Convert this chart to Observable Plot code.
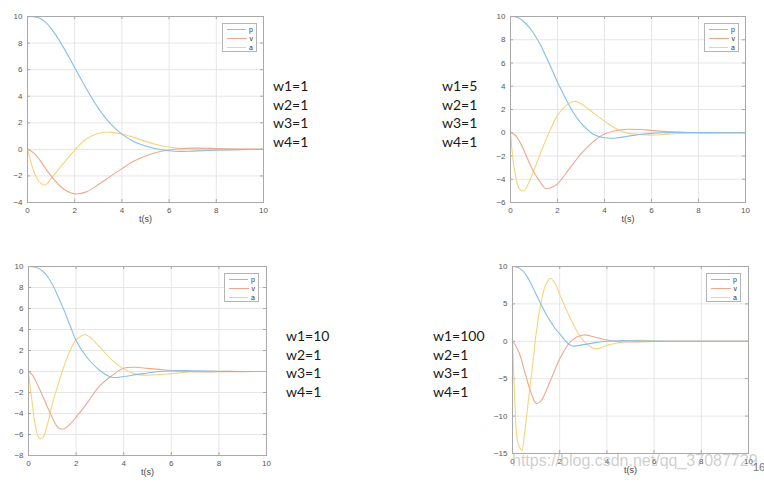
<!DOCTYPE html>
<html><head><meta charset="utf-8">
<script src="https://cdn.jsdelivr.net/npm/d3@7"></script>
<script src="https://cdn.jsdelivr.net/npm/@observablehq/plot@0.6"></script>
<style>
body{margin:0;background:#fff;}
#root{position:relative;width:764px;height:482px;overflow:hidden;background:#fff;}
.panel{position:absolute;}
.legend{position:absolute;box-sizing:border-box;border:1px solid #b4b4b4;background:#fff;font:7px "Liberation Sans",Arial,sans-serif;color:#333;padding:1px 3px 1px 4px;}
.legend .row{display:flex;align-items:center;height:9px;}
.legend .sw{width:20px;height:0;border-top:1px solid;margin-right:3px;}
.weights{position:absolute;font:14px Lato,"Open Sans",sans-serif;line-height:18.5px;color:#1a1a1a;white-space:pre;}
.wm{position:absolute;font:16px "Liberation Sans",Arial,sans-serif;color:rgba(165,165,165,0.55);white-space:nowrap;}
.pg{position:absolute;font:11px "Liberation Sans",Arial,sans-serif;color:#777;}
</style></head>
<body><div id="root"></div>
<script>
// ---- data ----
const seriesNames = ["p", "v", "a"];
const seriesColors = ["#86bfe6", "#efa88e", "#f4d47e"];
const xTicks = [0, 2, 4, 6, 8, 10];

// panel 1: w1=1
const t1 = [0,0.25,0.5,0.75,1,1.5,2,2.5,3,3.5,4,4.5,5,5.5,6,6.5,7,8,9,10];
const p1 = [10,9.98,9.88,9.6,9.1,7.75,6.15,4.55,3.1,1.95,1.15,0.6,0.25,0.03,-0.1,-0.15,-0.13,-0.06,-0.02,0];
const v1 = [0,-0.25,-0.75,-1.4,-2.0,-2.95,-3.35,-3.2,-2.65,-2.05,-1.45,-0.9,-0.5,-0.22,-0.05,0.05,0.09,0.07,0.03,0.01];
const a1 = [0,-1.55,-2.45,-2.68,-2.2,-1.1,-0.05,0.8,1.2,1.3,1.15,0.9,0.6,0.35,0.18,0.07,0.0,-0.03,-0.01,0];
const yTicks1 = [-4,-2,0,2,4,6,8,10];

// panel 2: w1=5
const t2 = [0,0.17,0.37,0.57,0.78,1,1.25,1.5,1.75,2,2.5,2.75,3,3.5,4,4.5,5,5.5,6,6.5,7,8,9,10];
const p2 = [10,9.98,9.85,9.55,9.1,8.5,7.65,6.6,5.5,4.35,2.35,1.5,0.83,-0.1,-0.43,-0.45,-0.3,-0.15,-0.05,0,0.03,0.02,0,0];
const v2 = [0,-0.15,-0.7,-1.5,-2.5,-3.4,-4.2,-4.8,-4.7,-4.4,-3.1,-2.45,-1.8,-0.8,-0.1,0.2,0.3,0.28,0.2,0.12,0.05,-0.01,0,0];
const a2 = [0,-3.2,-4.8,-5.0,-4.3,-3.2,-1.9,-0.65,0.5,1.5,2.55,2.7,2.5,1.75,1.0,0.35,-0.03,-0.15,-0.2,-0.15,-0.08,0,0,0];
const yTicks2 = [-6,-4,-2,0,2,4,6,8,10];

// panel 3: w1=10
const t3 = [0,0.15,0.3,0.45,0.6,0.8,1,1.25,1.5,1.75,2,2.4,3,3.5,4,4.5,5,5.5,6,6.5,7,8,9,10];
const p3 = [10,9.98,9.92,9.78,9.55,9.05,8.3,7.1,5.8,4.35,2.95,1.5,0.1,-0.55,-0.48,-0.3,-0.15,0,0.05,0.08,0.07,0.03,0,0];
const v3 = [0,-0.3,-0.9,-1.6,-2.35,-3.4,-4.4,-5.35,-5.45,-5.0,-4.35,-3.2,-1.35,-0.4,0.3,0.4,0.3,0.2,0.1,0.03,-0.02,-0.03,-0.01,0];
const a3 = [0,-2.9,-5.3,-6.35,-6.3,-5.0,-3.1,-1.2,0.55,2.0,3.0,3.5,2.3,1.1,0.25,-0.25,-0.35,-0.3,-0.2,-0.1,-0.03,0.02,0,0];
const yTicks3 = [-8,-6,-4,-2,0,2,4,6,8,10];

// panel 4: w1=100
const t4 = [0,0.1,0.2,0.3,0.4,0.5,0.6,0.7,0.8,0.9,1,1.2,1.4,1.6,1.8,2,2.5,3,3.5,4,4.5,5,5.5,6,7,8,10];
const p4 = [10,9.98,9.9,9.75,9.5,9.2,8.75,8.2,7.6,6.95,6.3,5.0,3.75,2.7,1.75,1.0,-0.6,-0.45,-0.18,0,0.08,0.07,0.04,0.02,0,0,0];
const v4 = [0,-0.4,-1.0,-1.7,-2.7,-3.9,-5.0,-6.1,-7.0,-7.8,-8.3,-8.0,-6.8,-5.3,-3.8,-2.35,0.1,0.85,0.55,0.18,-0.05,-0.1,-0.07,-0.03,0,0,0];
const a4 = [0,-8.0,-13.2,-14.2,-14.6,-12.5,-10.0,-7.2,-4.6,-1.8,1.0,5.0,7.5,8.4,7.8,6.3,2.75,0.1,-1.0,-0.55,-0.15,0.1,0.12,0.05,0,0,0];
const yTicks4 = [-15,-10,-5,0,5,10];

// weight labels
const w1Values = [1, 5, 10, 100];
const w2Values = [1, 1, 1, 1];
const w3Values = [1, 1, 1, 1];
const w4Values = [1, 1, 1, 1];

const xLabel = "t(s)";
const watermark = "https://blog.csdn.net/qq_37087729";
const pageNumber = "16";

// ---- layout ----
const panels = [
  {t: t1, p: p1, v: v1, a: a1, yTicks: yTicks1, left: 0, top: 0, width: 280, height: 230, ml: 27, mr: 17, mt: 16, mb: 28, lgRight: 6, lgTop: 7, wLeft: 273, wTop: 77},
  {t: t2, p: p2, v: v2, a: a2, yTicks: yTicks2, left: 490, top: 0, width: 274, height: 230, ml: 20, mr: 19, mt: 16, mb: 28, lgRight: 6, lgTop: 7, wLeft: 442, wTop: 77},
  {t: t3, p: p3, v: v3, a: a3, yTicks: yTicks3, left: 0, top: 250, width: 280, height: 232, ml: 28, mr: 14, mt: 16, mb: 27, lgRight: 7, lgTop: 7, wLeft: 286, wTop: 327},
  {t: t4, p: p4, v: v4, a: a4, yTicks: yTicks4, left: 490, top: 250, width: 274, height: 232, ml: 22, mr: 16, mt: 16, mb: 29, lgRight: 7, lgTop: 7, wLeft: 433, wTop: 327}
];

const root = document.getElementById("root");
const frameColor = "#a9a9a9";
const gridColor = "#e6e6e6";

panels.forEach((P, i) => {
  const rows = [];
  P.t.forEach((t, k) => {
    rows.push({t, y: P.p[k], s: "p"});
    rows.push({t, y: P.v[k], s: "v"});
    rows.push({t, y: P.a[k], s: "a"});
  });
  const pw = P.width - P.ml - P.mr;
  const ph = P.height - P.mt - P.mb;
  const yDom = [P.yTicks[0], P.yTicks[P.yTicks.length - 1]];
  const chart = Plot.plot({
    width: P.width, height: P.height,
    marginLeft: P.ml, marginRight: P.mr, marginTop: P.mt, marginBottom: P.mb,
    style: {fontFamily: "'Liberation Sans', Arial, sans-serif", fontSize: "8px", color: "#555", background: "transparent", overflow: "visible"},
    x: {domain: [0, 10]},
    y: {domain: yDom},
    color: {domain: seriesNames, range: seriesColors},
    marks: [
      Plot.gridX(xTicks, {stroke: gridColor, strokeOpacity: 1}),
      Plot.gridY(P.yTicks, {stroke: gridColor, strokeOpacity: 1}),
      Plot.tickX(xTicks, {x: d => d, stroke: frameColor, insetTop: ph - 3}),
      Plot.tickX(xTicks, {x: d => d, stroke: frameColor, insetBottom: ph - 3}),
      Plot.tickY(P.yTicks, {y: d => d, stroke: frameColor, insetRight: pw - 3}),
      Plot.tickY(P.yTicks, {y: d => d, stroke: frameColor, insetLeft: pw - 3}),
      Plot.axisX(xTicks, {tickSize: 0, tickPadding: 5, label: null, fill: "#555"}),
      Plot.axisY(P.yTicks, {tickSize: 0, tickPadding: 5, label: null, fill: "#555"}),
      Plot.line(rows.filter(d => d.s === "a"), {x: "t", y: "y", stroke: "s", curve: "catmull-rom", strokeWidth: 1.1}),
      Plot.line(rows.filter(d => d.s === "v"), {x: "t", y: "y", stroke: "s", curve: "catmull-rom", strokeWidth: 1.1}),
      Plot.line(rows.filter(d => d.s === "p"), {x: "t", y: "y", stroke: "s", curve: "catmull-rom", strokeWidth: 1.1}),
      Plot.frame({stroke: frameColor}),
      Plot.text([xLabel], {frameAnchor: "bottom", dy: 19, fontSize: 9, fill: "#444"})
    ]
  });
  chart.classList.add("panel");
  chart.style.left = P.left + "px";
  chart.style.top = P.top + "px";
  root.appendChild(chart);

  // legend
  const lg = document.createElement("div");
  lg.className = "legend";
  lg.style.left = (P.left + P.width - P.mr - P.lgRight - 35) + "px";
  lg.style.top = (P.top + P.mt + P.lgTop) + "px";
  lg.style.width = "35px";
  lg.style.height = "29px";
  seriesNames.forEach((s, k) => {
    const r = document.createElement("div");
    r.className = "row";
    const sw = document.createElement("span");
    sw.className = "sw";
    sw.style.borderTopColor = seriesColors[k];
    const lab = document.createElement("span");
    lab.textContent = s;
    r.appendChild(sw); r.appendChild(lab);
    lg.appendChild(r);
  });
  root.appendChild(lg);

  // weights
  const w = document.createElement("div");
  w.className = "weights";
  w.style.left = P.wLeft + "px";
  w.style.top = P.wTop + "px";
  w.textContent = `w1=${w1Values[i]}\nw2=${w2Values[i]}\nw3=${w3Values[i]}\nw4=${w4Values[i]}`;
  root.appendChild(w);
});

const wm = document.createElement("div");
wm.className = "wm";
wm.style.left = "512px";
wm.style.top = "452px";
wm.textContent = watermark;
root.appendChild(wm);

const pg = document.createElement("div");
pg.className = "pg";
pg.style.left = "753px";
pg.style.top = "461px";
pg.textContent = pageNumber;
root.appendChild(pg);
</script>
</body></html>
